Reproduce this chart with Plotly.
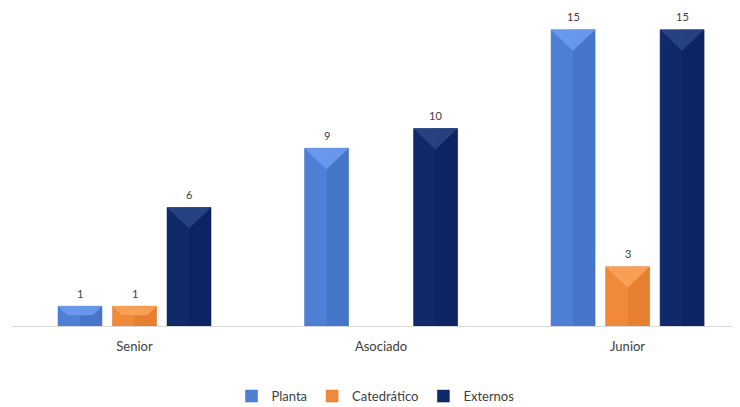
import plotly.graph_objects as go

categories = ["Senior", "Asociado", "Junior"]
series_names = ["Planta", "Catedrático", "Externos"]
planta = [1, 9, 15]
catedratico = [1, None, 3]
externos = [6, 10, 15]

values = [planta, catedratico, externos]
base_colors = ["#4f80d6", "#f08938", "#10296a"]
light_colors = ["#6f9cf0", "#f9a55a", "#2a4684"]
dark_colors = ["#4270c0", "#e07a2c", "#0b2260"]

slot = 54.5 / 246.5
bw = 44 / 246.5
bevel_y = 1.06

fig = go.Figure()
for k, (name, vals) in enumerate(zip(series_names, values)):
    xs = [i + (k - 1) * slot for i in range(len(categories))]
    fig.add_trace(go.Bar(
        x=xs, y=vals, width=bw, name=name,
        marker=dict(color=base_colors[k], line=dict(color=dark_colors[k], width=0.5)),
        showlegend=True,
    ))
for k, (name, vals) in enumerate(zip(series_names, values)):
    xs = [i + (k - 1) * slot for i in range(len(categories))]
    # right half darker
    fig.add_trace(go.Bar(
        x=[x + bw / 4 for x in xs], y=vals, width=bw / 2,
        marker=dict(color=dark_colors[k], line=dict(width=0)),
        opacity=0.6, showlegend=False, hoverinfo="skip",
    ))
for k, (name, vals) in enumerate(zip(series_names, values)):
    xs = [i + (k - 1) * slot for i in range(len(categories))]
    for x, v in zip(xs, vals):
        if v is None:
            continue
        d = min(bevel_y, v * 0.45)
        dx = (bw / 2) * d / bevel_y
        px = [x - bw / 2, x + bw / 2, x + bw / 2 - dx, x - bw / 2 + dx, x - bw / 2]
        py = [v, v, v - d, v - d, v]
        fig.add_trace(go.Scatter(
            x=px, y=py, mode="lines", fill="toself", fillcolor=light_colors[k],
            line=dict(width=0), showlegend=False, hoverinfo="skip", opacity=0.85,
        ))
        fig.add_annotation(x=x, y=v, text=str(v), showarrow=False, yshift=13,
                           font=dict(size=11, color="#404040", family="Lato"))

fig.update_layout(
    width=732, height=399,
    margin=dict(l=3, r=0, t=2, b=81, autoexpand=False),
    paper_bgcolor="white", plot_bgcolor="white",
    barmode="overlay",
    font=dict(family="Lato", color="#404040"),
    xaxis=dict(
        range=[-0.501, 2.456], tickvals=[0, 1, 2], ticktext=categories,
        showline=True, linecolor="#d9d9d9", linewidth=1, showgrid=False,
        zeroline=False, ticks="", tickfont=dict(size=13, color="#404040"),
        ticklabelstandoff=8, automargin=False,
    ),
    yaxis=dict(range=[0, 16], visible=False, showgrid=False, zeroline=False,
               automargin=False),
    legend=dict(orientation="h", x=0.5, xanchor="center", y=-0.222, yanchor="middle",
                font=dict(size=13, color="#404040"), itemwidth=30,
                traceorder="normal"),
)
fig.write_html("out.html")
